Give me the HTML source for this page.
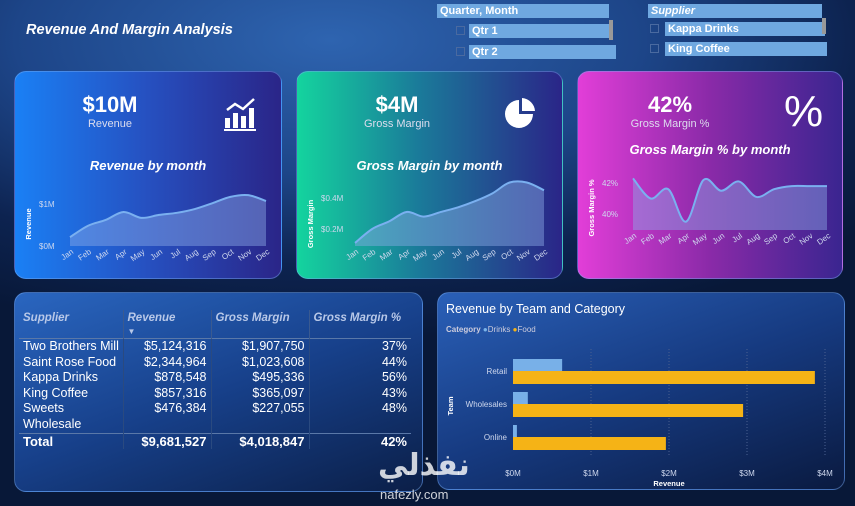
<!DOCTYPE html>
<html><head><meta charset="utf-8">
<style>
*{margin:0;padding:0;box-sizing:border-box}
body{width:855px;height:506px;overflow:hidden;font-family:"Liberation Sans",sans-serif;color:#fff;
background:radial-gradient(ellipse 700px 300px at 330px 40px,#2e64b0 0%,#1d4588 45%,#0d2350 75%,#081838 100%);position:relative}
.abs{position:absolute}
.card{position:absolute;border-radius:12px;border:1px solid rgba(120,170,240,.45);overflow:hidden}
.big{font-size:22px;font-weight:bold;position:absolute;text-align:center}
.sub{font-size:11px;color:#dde;position:absolute;text-align:center}
.ct{font-size:13px;font-weight:bold;font-style:italic;position:absolute;width:100%;text-align:center}
.slicer{position:absolute;background:#6fa8e0;color:#fff;font-size:11px;font-weight:bold;height:14px;line-height:14px;padding-left:3px}
table{border-collapse:collapse;font-size:12.5px;table-layout:fixed}
td,th{padding:0 4px;line-height:15.6px;white-space:nowrap}
th{color:#b8c8e8;font-style:italic;font-size:11.5px;text-align:left;height:26px;vertical-align:top;padding-top:2px;line-height:13px}
</style></head><body>
<div class="abs" style="left:26px;top:22px;font-size:14.5px;font-weight:bold;font-style:italic">Revenue And Margin Analysis</div>

<div class="slicer" style="left:437px;top:4px;width:172px">Quarter, Month</div>
<div class="slicer" style="left:469px;top:24px;width:143px">Qtr 1</div>
<div class="slicer" style="left:469px;top:45px;width:147px">Qtr 2</div>
<div class="abs" style="left:456px;top:26px;width:9px;height:9px;border:1px solid #4a6aa0"></div>
<div class="abs" style="left:456px;top:47px;width:9px;height:9px;border:1px solid #4a6aa0"></div>
<div class="abs" style="left:609px;top:20px;width:4px;height:20px;background:#999"></div>
<div class="slicer" style="left:648px;top:4px;width:174px;font-style:italic">Supplier</div>
<div class="slicer" style="left:665px;top:22px;width:160px">Kappa Drinks</div>
<div class="slicer" style="left:665px;top:42px;width:162px">King Coffee</div>
<div class="abs" style="left:650px;top:24px;width:9px;height:9px;border:1px solid #4a6aa0"></div>
<div class="abs" style="left:650px;top:44px;width:9px;height:9px;border:1px solid #4a6aa0"></div>
<div class="abs" style="left:822px;top:18px;width:4px;height:16px;background:#999"></div>

<div class="card" style="left:14px;top:71px;width:268px;height:208px;background:linear-gradient(90deg,#1a80f5 0%,#2650c0 50%,#2a2588 100%)">
 <div class="big" style="left:50px;top:20px;width:90px">$10M</div>
 <div class="sub" style="left:50px;top:46px;width:90px">Revenue</div>
 <svg class="abs" style="left:208px;top:24px" width="36" height="36"><g fill="#fff"><rect x="2" y="22" width="5" height="10"/><rect x="10" y="17" width="5" height="15"/><rect x="18" y="20" width="5" height="12"/><rect x="26" y="12" width="5" height="20"/><rect x="1" y="33" width="32" height="2"/></g><polyline points="4,14 12,8 20,13 31,3" stroke="#fff" stroke-width="2.5" fill="none"/></svg>
 <div class="ct" style="top:86px">Revenue by month</div>
 <svg id="c1" class="abs" style="left:0;top:0" width="268" height="208"></svg>
</div>
<div class="card" style="left:296px;top:71px;width:267px;height:208px;background:linear-gradient(90deg,#14d49e 0%,#1a7c9a 45%,#2a2588 100%)">
 <div class="big" style="left:55px;top:20px;width:90px">$4M</div>
 <div class="sub" style="left:55px;top:46px;width:90px">Gross Margin</div>
 <svg class="abs" style="left:206px;top:24px" width="34" height="36"><path d="M16,4 A14,14 0 1 0 30,18 L16,18Z" fill="#fff"/><path d="M19,2 A14,14 0 0 1 32,15 L19,15Z" fill="#fff"/></svg>
 <div class="ct" style="top:86px">Gross Margin by month</div>
 <svg id="c2" class="abs" style="left:0;top:0" width="267" height="208"></svg>
</div>
<div class="card" style="left:577px;top:71px;width:266px;height:208px;background:linear-gradient(90deg,#e23ed8 0%,#8a2aa8 50%,#3a2590 100%)">
 <div class="big" style="left:47px;top:20px;width:90px">42%</div>
 <div class="sub" style="left:47px;top:46px;width:90px">Gross Margin %</div>
 <div class="abs" style="left:206px;top:15px;font-size:44px">%</div>
 <div class="ct" style="top:70px">Gross Margin % by month</div>
 <svg id="c3" class="abs" style="left:0;top:0" width="266" height="208"></svg>
</div>

<div class="card" style="left:14px;top:292px;width:409px;height:200px;background:linear-gradient(160deg,#2a66c0 0%,#17408a 50%,#0b1f48 100%)">
<table class="abs" style="left:4px;top:17px;width:392px">
<colgroup><col style="width:104px"><col style="width:88px"><col style="width:98px"><col style="width:102px"></colgroup>
<tr style="border-bottom:1px solid #5a78a8"><th>Supplier</th><th style="border-left:1px solid #3a5a90">Revenue<br><span style="font-size:8px;font-style:normal">▼</span></th><th style="border-left:1px solid #3a5a90">Gross Margin</th><th style="border-left:1px solid #3a5a90">Gross Margin %</th></tr>
<tbody id="tb"></tbody>
<tr style="border-top:1px solid #5a78a8;font-weight:bold;font-size:13px"><td>Total</td><td style="text-align:right;border-left:1px solid #2a4a80">$9,681,527</td><td style="text-align:right;border-left:1px solid #2a4a80">$4,018,847</td><td style="text-align:right;border-left:1px solid #2a4a80">42%</td></tr>
</table>
</div>

<div class="card" style="left:437px;top:292px;width:408px;height:198px;background:linear-gradient(160deg,#2a60b8 0%,#163a80 50%,#0a1a40 100%)">
 <div class="abs" style="left:8px;top:9px;font-size:12.5px">Revenue by Team and Category</div>
 <div class="abs" style="left:8px;top:32px;font-size:8px;color:#ccd"><b>Category</b> <span style="color:#7ab4ea">●</span>Drinks <span style="color:#f5b316">●</span>Food</div>
 <svg id="c4" class="abs" style="left:0;top:0" width="408" height="198"></svg>
</div>
<div class="abs" style="left:378px;top:448px;font-size:30px;font-weight:bold;color:rgba(255,255,255,.8);font-family:'Liberation Sans','DejaVu Sans',sans-serif">نفذلي</div>
<div class="abs" style="left:380px;top:487px;font-size:13px;color:rgba(255,255,255,.8)">nafezly.com</div>

<script>
const months=["Jan","Feb","Mar","Apr","May","Jun","Jul","Aug","Sep","Oct","Nov","Dec"];
const revenue=[0.21,0.48,0.62,0.81,0.67,0.74,0.79,0.88,1.02,1.17,1.21,1.07];
const grossMargin=[0.11,0.20,0.25,0.31,0.28,0.31,0.34,0.38,0.43,0.50,0.50,0.45];
const gmPct=[42.3,41.0,41.6,39.5,42.2,41.5,42.1,41.1,41.6,41.8,41.8,41.8];
const revTicks=[0,1],revTickLabels=["$0M","$1M"];
const gmTicks=[0.2,0.4],gmTickLabels=["$0.2M","$0.4M"];
const pctTicks=[40,42],pctTickLabels=["40%","42%"];
const teams=["Retail","Wholesales","Online"];
const drinks=[0.63,0.19,0.05];
const food=[3.87,2.95,1.96];
const xTicks=[0,1,2,3,4],xTickLabels=["$0M","$1M","$2M","$3M","$4M"];
const suppliers=["Two Brothers Mill","Saint Rose Food","Kappa Drinks","King Coffee","Sweets<br>Wholesale"];
const supRevenue=["$5,124,316","$2,344,964","$878,548","$857,316","$476,384"];
const supGM=["$1,907,750","$1,023,608","$495,336","$365,097","$227,055"];
const supPct=["37%","44%","56%","43%","48%"];
const NS="http://www.w3.org/2000/svg";
function el(p,t,a){const e=document.createElementNS(NS,t);for(const k in a)e.setAttribute(k,a[k]);p.appendChild(e);return e;}
function smooth(pts){let d="M"+pts[0][0]+","+pts[0][1];for(let i=0;i<pts.length-1;i++){const p0=pts[i-1]||pts[i],p1=pts[i],p2=pts[i+1],p3=pts[i+2]||p2;
d+=" C"+(p1[0]+(p2[0]-p0[0])/6)+","+(p1[1]+(p2[1]-p0[1])/6)+" "+(p2[0]-(p3[0]-p1[0])/6)+","+(p2[1]-(p3[1]-p1[1])/6)+" "+p2[0]+","+p2[1];}return d;}
function line(id,vals,x0,x1,v0,y0,v1,y1,base,ticks,labels,ytitle,tx,name){
 const s=document.getElementById(id);
 const X=i=>x0+i*(x1-x0)/(vals.length-1), Y=v=>y0+(v-v0)*(y1-y0)/(v1-v0);
 const pts=vals.map((v,i)=>[X(i),Y(v)]);
 const a=el(s,"path",{d:smooth(pts)+" L"+x1+","+base+" L"+x0+","+base+"Z",fill:"rgba(140,170,230,.45)"});
 
 const l=el(s,"path",{d:smooth(pts),fill:"none",stroke:"#7ab0f0","stroke-width":2});
 
 ticks.forEach((t,i)=>{const e=el(s,"text",{x:tx,y:Y(t)+3,"font-size":8,fill:"#cfd8ee"});e.textContent=labels[i];
  });
 months.forEach((m,i)=>{const e=el(s,"text",{x:X(i)+4,y:base+7,"font-size":8,fill:"#cfd8ee","text-anchor":"end",transform:"rotate(-35 "+(X(i)+4)+" "+(base+7)+")"});e.textContent=m;
  });
 const yt=el(s,"text",{x:0,y:0,"font-size":7.5,"font-weight":"bold",fill:"#fff","text-anchor":"middle",transform:"translate(16,"+(base-22)+") rotate(-90)"});yt.textContent=ytitle;
 
}
line("c1",revenue,55,251,0,174,1,132,174,revTicks,revTickLabels,"Revenue",24,"revenue");
line("c2",grossMargin,58,247,0.2,157,0.4,126,174,gmTicks,gmTickLabels,"Gross Margin",24,"gross-margin");
line("c3",gmPct,55,249,40,142,42,111,158,pctTicks,pctTickLabels,"Gross Margin %",24,"gm-pct");
const s4=document.getElementById("c4");
const BX=v=>75+v*78;
xTicks.forEach((t,i)=>{ if(i>0){const g=el(s4,"line",{x1:BX(t),x2:BX(t),y1:56,y2:162,stroke:"#4a6090","stroke-dasharray":"1,2"});}
 const e=el(s4,"text",{x:BX(t),y:183,"font-size":8,fill:"#cfd8ee","text-anchor":"middle"});e.textContent=xTickLabels[i];
 });
teams.forEach((t,i)=>{const y=66+i*33;
 const d=el(s4,"rect",{x:BX(0),y:y,width:BX(drinks[i])-BX(0),height:12,fill:"#78b0e8"});
 
 const f=el(s4,"rect",{x:BX(0),y:y+12,width:BX(food[i])-BX(0),height:13,fill:"#f5b316"});
 
 const e=el(s4,"text",{x:69,y:y+15,"font-size":8,fill:"#cfd8ee","text-anchor":"end"});e.textContent=t;
 });
const xt=el(s4,"text",{x:231,y:193,"font-size":7.5,"font-weight":"bold",fill:"#fff","text-anchor":"middle"});xt.textContent="Revenue";

const yt4=el(s4,"text",{x:0,y:0,"font-size":7.5,"font-weight":"bold",fill:"#fff","text-anchor":"middle",transform:"translate(15,113) rotate(-90)"});yt4.textContent="Team";

const tb=document.getElementById("tb");
suppliers.forEach((n,i)=>{const tr=document.createElement("tr");
 
 
 tr.innerHTML='<td style="vertical-align:top">'+n+'</td><td style="text-align:right;vertical-align:top;border-left:1px solid #2a4a80">'+supRevenue[i]+'</td><td style="text-align:right;vertical-align:top;border-left:1px solid #2a4a80">'+supGM[i]+'</td><td style="text-align:right;vertical-align:top;border-left:1px solid #2a4a80">'+supPct[i]+'</td>';
 tb.appendChild(tr);});
</script>
</body></html>
